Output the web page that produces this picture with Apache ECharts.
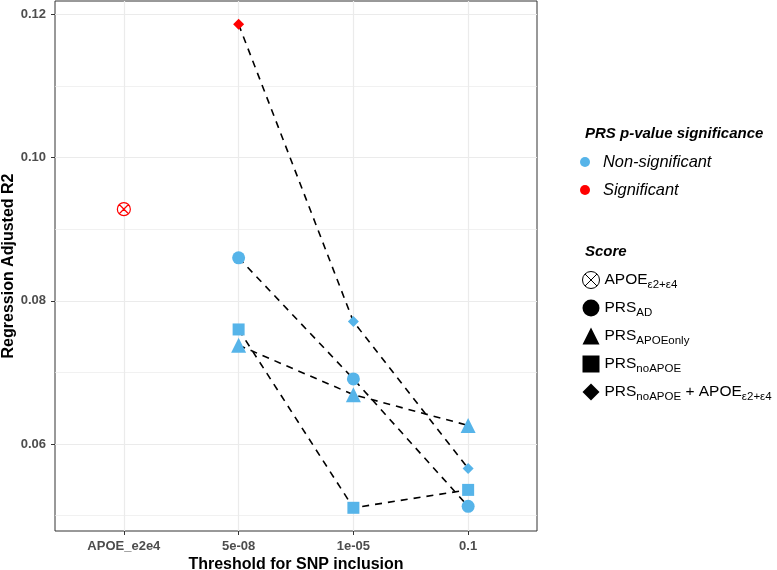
<!DOCTYPE html>
<html>
<head>
<meta charset="utf-8">
<script src="https://cdn.jsdelivr.net/npm/echarts@6/dist/echarts.min.js"></script>
<style>html,body{margin:0;padding:0;background:#fff}#c{width:777px;height:570px}</style>
</head>
<body>
<div id="c"></div>
<script>
// ---- data ----
const categories = ['APOE_e2e4', '5e-08', '1e-05', '0.1'];
const prsThresholds = ['5e-08', '1e-05', '0.1'];
const yTicks = [0.06, 0.08, 0.10, 0.12];
const yMinorTicks = [0.05, 0.07, 0.09, 0.11];
const sigLevels = ['Non-significant', 'Significant'];
const scoreNames = ['APOE_ε2+ε4', 'PRS_AD', 'PRS_APOEonly', 'PRS_noAPOE', 'PRS_noAPOE + APOE_ε2+ε4'];

const apoeValues = [0.0928];
const apoeSig = ['Significant'];
const prsAD = [0.0860, 0.0691, 0.0513];
const prsADSig = ['Non-significant', 'Non-significant', 'Non-significant'];
const prsAPOEonly = [0.0738, 0.0669, 0.0626];
const prsAPOEonlySig = ['Non-significant', 'Non-significant', 'Non-significant'];
const prsNoAPOE = [0.0760, 0.0511, 0.0536];
const prsNoAPOESig = ['Non-significant', 'Non-significant', 'Non-significant'];
const prsNoAPOEplusAPOE = [0.1186, 0.0771, 0.0566];
const prsNoAPOEplusAPOESig = ['Significant', 'Non-significant', 'Non-significant'];

// ---- styles ----
const sigColors = { 'Non-significant': '#56B4E9', 'Significant': '#FF0000' };
const FONT = 'Liberation Sans, Arial, Helvetica, sans-serif';
const crossedCircle = 'path://M0,10 A10,10 0 1,1 20,10 A10,10 0 1,1 0,10 Z M2.93,2.93 L17.07,17.07 M17.07,2.93 L2.93,17.07';
const shapes = [crossedCircle, 'circle', 'triangle', 'rect', 'diamond'];
const sizes = [13, 13, 15, 12, 11];

const groups = [
  { name: scoreNames[0], cats: ['APOE_e2e4'], vals: apoeValues, sig: apoeSig, line: false },
  { name: scoreNames[1], cats: prsThresholds, vals: prsAD, sig: prsADSig, line: true },
  { name: scoreNames[2], cats: prsThresholds, vals: prsAPOEonly, sig: prsAPOEonlySig, line: true },
  { name: scoreNames[3], cats: prsThresholds, vals: prsNoAPOE, sig: prsNoAPOESig, line: true },
  { name: scoreNames[4], cats: prsThresholds, vals: prsNoAPOEplusAPOE, sig: prsNoAPOEplusAPOESig, line: true }
];

const series = [];
groups.forEach((g, gi) => {
  if (g.line) {
    series.push({
      type: 'line', name: 'line_' + gi, silent: true, z: 1,
      symbol: 'none',
      lineStyle: { color: '#000', width: 1.6, type: [7, 6] },
      data: g.cats.map((c, i) => [categories.indexOf(c), g.vals[i]])
    });
  }
});
groups.forEach((g, gi) => {
  const hollow = gi === 0;
  series.push({
    type: 'scatter', name: g.name, z: 3,
    symbol: shapes[gi], symbolSize: sizes[gi],
    itemStyle: hollow ? { color: 'rgba(0,0,0,0)', borderColor: '#000', borderWidth: 1.2, opacity: 1 } : { color: '#000', opacity: 1 },
    data: g.cats.map((c, i) => ({
      value: [categories.indexOf(c), g.vals[i]],
      itemStyle: hollow
        ? { color: 'rgba(0,0,0,0)', borderColor: sigColors[g.sig[i]], borderWidth: 1.2, opacity: 1 }
        : { color: sigColors[g.sig[i]], opacity: 1 }
    }))
  });
});
sigLevels.forEach(s => {
  series.push({ type: 'scatter', name: s, symbol: 'circle', itemStyle: { color: sigColors[s], opacity: 1 }, data: [] });
});

const chart = echarts.init(document.getElementById('c'), null, { renderer: 'canvas' });
chart.setOption({
  backgroundColor: '#fff',
  animation: false,
  textStyle: { fontFamily: FONT },
  title: [
    { text: 'PRS p-value significance', left: 585, top: 126, padding: 0,
      textStyle: { fontFamily: FONT, fontSize: 15, fontWeight: 'bold', fontStyle: 'italic', color: '#000' } },
    { text: 'Score', left: 585, top: 244, padding: 0,
      textStyle: { fontFamily: FONT, fontSize: 15, fontWeight: 'bold', fontStyle: 'italic', color: '#000' } }
  ],
  grid: { left: 55, right: 240, top: 1, bottom: 39, show: true, borderColor: '#333', borderWidth: 1,
    backgroundColor: 'transparent', containLabel: false, outerBoundsMode: 'none' },
  xAxis: {
    type: 'value', min: -0.6, max: 3.6,
    name: 'Threshold for SNP inclusion', nameLocation: 'middle', nameGap: 26, nameMoveOverlap: false,
    nameTextStyle: { fontFamily: FONT, fontSize: 16, fontWeight: 'bold', color: '#000' },
    axisLine: { show: false, onZero: false },
    axisTick: { show: true, length: 4, customValues: [0, 1, 2, 3], lineStyle: { color: '#333', width: 1 } },
    axisLabel: { customValues: [0, 1, 2, 3], formatter: v => categories[Math.round(v)], margin: 9,
      fontFamily: FONT, fontSize: 13, fontWeight: 'bold', color: '#4D4D4D' },
    splitLine: { show: true, lineStyle: { color: '#EBEBEB', width: 1.2 } }
  },
  yAxis: [
    {
      type: 'value', min: 0.04786, max: 0.12186,
      name: 'Regression Adjusted R2', nameLocation: 'middle', nameGap: 38, nameMoveOverlap: false,
      nameTextStyle: { fontFamily: FONT, fontSize: 16, fontWeight: 'bold', color: '#000' },
      axisLine: { show: false, onZero: false },
      axisTick: { show: true, length: 4, customValues: yTicks, lineStyle: { color: '#333', width: 1 } },
      axisLabel: { customValues: yTicks, formatter: v => v.toFixed(2), margin: 9,
        fontFamily: FONT, fontSize: 13, fontWeight: 'bold', color: '#4D4D4D' },
      splitLine: { show: true, lineStyle: { color: '#EBEBEB', width: 1.2 } }
    },
    {
      type: 'value', min: 0.04786, max: 0.12186, position: 'left',
      axisLine: { show: false, onZero: false },
      axisTick: { show: false, customValues: yMinorTicks },
      axisLabel: { show: false },
      splitLine: { show: true, lineStyle: { color: '#EBEBEB', width: 0.7 } }
    }
  ],
  legend: [
    {
      data: sigLevels, orient: 'vertical', left: 580, top: 154, padding: 0,
      itemWidth: 18, itemHeight: 10, itemGap: 12, selectedMode: false,
      textStyle: { fontFamily: FONT, fontSize: 16.4, fontStyle: 'italic', color: '#000', lineHeight: 10, padding: [0, 0, 0, 4] }
    },
    {
      data: scoreNames.map((n, i) => i === 0
        ? { name: n, itemStyle: { color: 'rgba(0,0,0,0)', borderColor: '#000', borderWidth: 1 } }
        : { name: n }),
      orient: 'vertical', left: 582, top: 269, padding: 0,
      itemWidth: 17, itemHeight: 17, itemGap: 6, selectedMode: false,
      itemStyle: { color: '#000', borderWidth: 0 },
      formatter: name => name.replace(/_(\S+)/g, '{s|$1}'),
      textStyle: { fontFamily: FONT, fontSize: 15.5, color: '#000', lineHeight: 17,
        rich: { s: { fontFamily: FONT, fontSize: 11.5, color: '#000', lineHeight: 17, padding: [10, 0, 0, 0] } } }
    }
  ],
  series: series
});
</script>
</body>
</html>
